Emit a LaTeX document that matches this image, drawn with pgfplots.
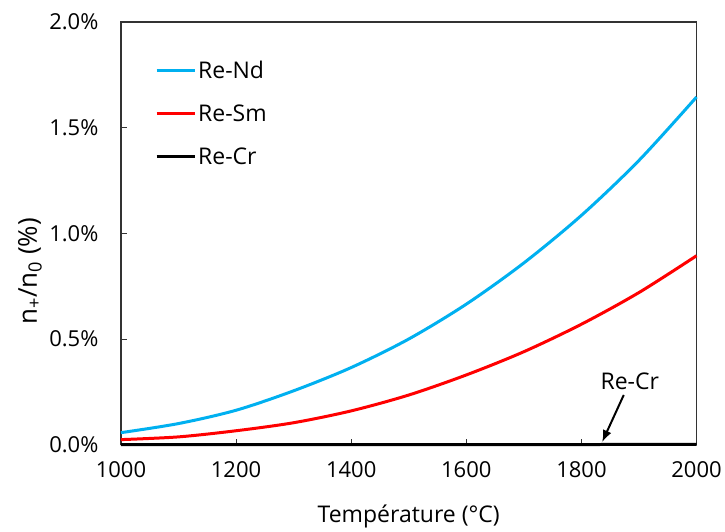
\documentclass[border=0pt]{standalone}
\usepackage{fontspec}
\setmainfont{Open Sans}
\usepackage{pgfplots}
\pgfplotsset{compat=1.18}
\usetikzlibrary{arrows.meta}
\definecolor{reblue}{HTML}{00B0F0}
\definecolor{rered}{HTML}{FF0000}
\definecolor{axgray}{HTML}{333333}
\begin{document}
\begin{tikzpicture}
\begin{axis}[
  name=main,
  scale only axis,
  width=576bp, height=423bp,
  xmin=1000, xmax=2000, ymin=0, ymax=2,
  xtick={1000,1200,...,2000},
  ytick={0,0.5,...,2},
  xtick pos=bottom, ytick pos=left,
  tick align=inside,
  major tick length=6bp,
  axis line style={axgray, line width=1.3bp},
  tick style={axgray, line width=1bp},
  /pgf/number format/assume math mode=true,
  xticklabel style={/pgf/number format/1000 sep={}, font=\fontsize{22bp}{26bp}\selectfont, yshift=-13bp},
  yticklabel={\pgfmathprintnumber[fixed,fixed zerofill,precision=1]{\tick}\%},
  yticklabel style={font=\fontsize{22bp}{26bp}\selectfont, xshift=-19bp},
  xlabel={Température (°C)},
  ylabel={n\textsubscript{+}/n\textsubscript{0} (\%)},
  xlabel style={font=\fontsize{23bp}{27bp}\selectfont, at={(axis description cs:0.5,-0.17)}, anchor=center},
  ylabel style={font=\fontsize{26bp}{30bp}\selectfont, at={(axis description cs:-0.158,0.41)}, anchor=center, rotate=0},
  legend style={at={(0.054,0.918)}, anchor=north west, draw=none, fill=none,
    font=\fontsize{23bp}{27bp}\selectfont, row sep=21bp},
  legend cell align=left,
  legend image code/.code={\draw[#1] (0bp,0bp) -- (38bp,0bp);},
  clip=false,
]
\addplot[reblue, line width=3bp, smooth] coordinates {
(1000,0.057) (1100,0.100) (1200,0.163) (1300,0.255) (1400,0.365) (1500,0.500)
(1600,0.665) (1700,0.860) (1800,1.085) (1900,1.345) (2000,1.645)};
\addlegendentry{Re-Nd}
\addplot[rered, line width=3bp, smooth] coordinates {
(1000,0.024) (1100,0.037) (1200,0.066) (1300,0.104) (1400,0.160) (1500,0.235)
(1600,0.330) (1700,0.440) (1800,0.570) (1900,0.720) (2000,0.894)};
\addlegendentry{Re-Sm}
\addplot[black, line width=3bp, smooth] coordinates {
(1000,0.0000) (1200,0.0000) (1400,0.0001) (1600,0.0003) (1800,0.0008) (2000,0.0020)};
\addlegendentry{Re-Cr}
\node[font=\fontsize{23bp}{27bp}\selectfont, inner sep=2bp] (recr) at (axis cs:1884,0.30) {Re-Cr};
\draw[black, -{Latex[length=12bp,width=9bp]}, line width=2bp] ([xshift=-6bp,yshift=-3bp]recr.south) -- (axis cs:1836,0.012);
\end{axis}
\path[use as bounding box] ([shift={(-121bp,-85bp)}]main.south west) rectangle ([shift={(28bp,22bp)}]main.north east);
\end{tikzpicture}
\end{document}
